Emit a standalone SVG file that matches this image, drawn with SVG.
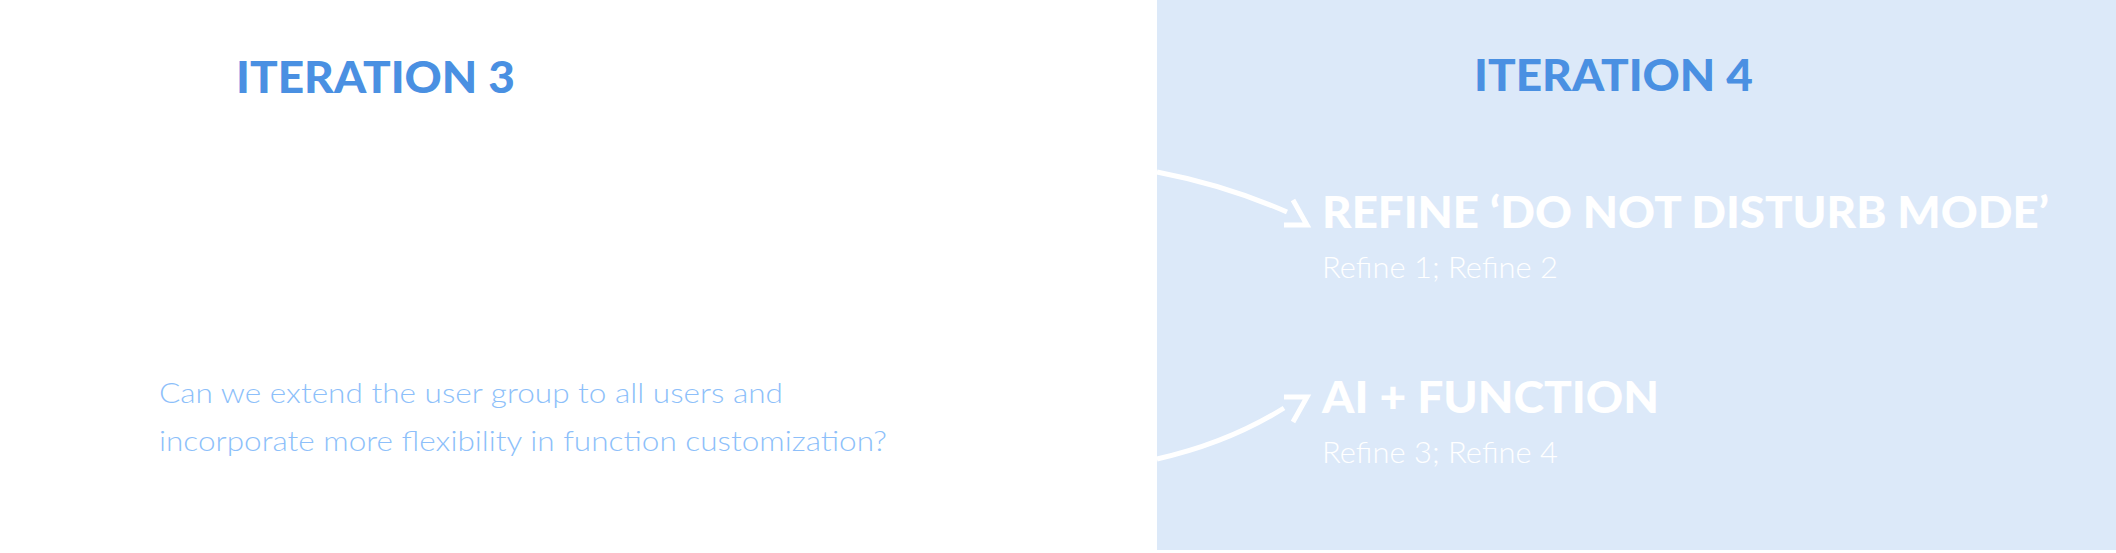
<svg xmlns="http://www.w3.org/2000/svg" width="2116" height="553" viewBox="0 0 2116 553">
<style>
.title{font-family:Lato,"Open Sans","Liberation Sans",sans-serif;font-weight:900;fill:#4A90E2;font-size:43px}
.head{font-family:Lato,"Open Sans","Liberation Sans",sans-serif;font-weight:900;fill:#FFFFFF;font-size:43px}
.sub{font-family:Lato,"Open Sans","Liberation Sans",sans-serif;font-weight:300;fill:#FFFFFF;font-size:30px}
.q{font-family:Lato,"Open Sans","Liberation Sans",sans-serif;font-weight:300;fill:#8DBFFA;font-size:28px}
.conn{fill:none;stroke:#FFFFFF;stroke-width:5}
</style>
<rect x="0" y="0" width="2116" height="553" fill="#FFFFFF"/>
<rect id="panel" x="1157" y="0" width="959" height="550" fill="#DCE9F9"/>
<g id="title3"><text class="title" x="236" y="93" textLength="279" lengthAdjust="spacingAndGlyphs">ITERATION 3</text></g>
<g id="title4"><text class="title" x="1474" y="91" textLength="279" lengthAdjust="spacingAndGlyphs">ITERATION 4</text></g>
<g id="question">
<text class="q" x="159" y="403" textLength="624" lengthAdjust="spacingAndGlyphs">Can we extend the user group to all users and</text>
<text class="q" x="159" y="451" textLength="728" lengthAdjust="spacingAndGlyphs">incorporate more flexibility in function customization?</text>
</g>
<g id="refine-dnd">
<text class="head" x="1322" y="228" textLength="727" lengthAdjust="spacingAndGlyphs">REFINE ‘DO NOT DISTURB MODE’</text>
<text class="sub" x="1322" y="278" textLength="236" lengthAdjust="spacingAndGlyphs">Refine 1; Refine 2</text>
</g>
<g id="ai-function">
<text class="head" x="1322" y="413" textLength="337" lengthAdjust="spacingAndGlyphs">AI + FUNCTION</text>
<text class="sub" x="1322" y="463" textLength="236" lengthAdjust="spacingAndGlyphs">Refine 3; Refine 4</text>
</g>
<g id="connectors">
<path class="conn" d="M1157,172 Q1225,185 1287,212"/>
<polyline class="conn" points="1293,200 1307,225 1284,225"/>
<path class="conn" d="M1157,459 Q1228,443 1284,408"/>
<polyline class="conn" points="1284,397 1307,397 1293,422"/>
</g>
</svg>
